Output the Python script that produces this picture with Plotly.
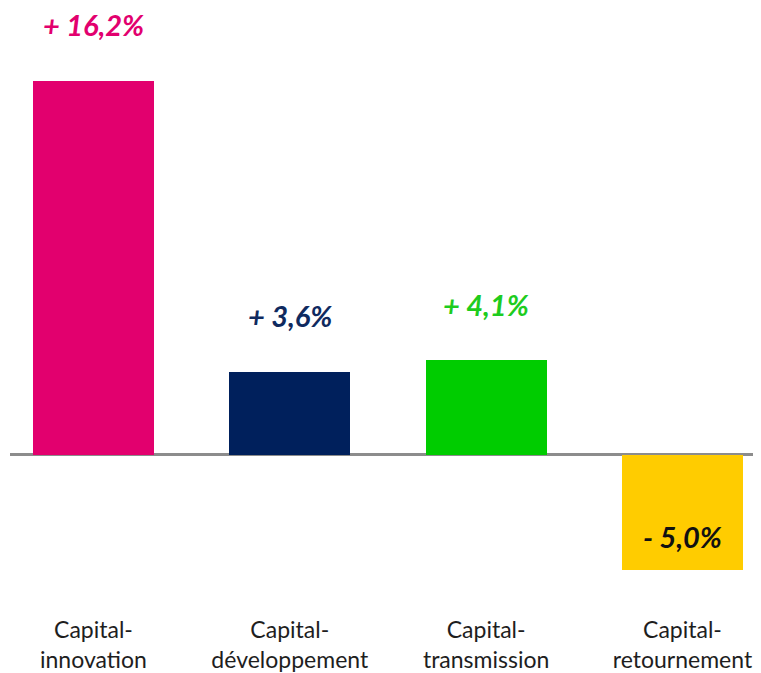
"""Bar chart: performance by capital segment."""

import plotly.graph_objects as go

# === Data ===
CATEGORIES = [
    "Capital-<br>innovation",
    "Capital-<br>développement",
    "Capital-<br>transmission",
    "Capital-<br>retournement",
]
VALUES = [16.2, 3.6, 4.1, -5.0]
VALUE_LABELS = ["+ 16,2%", "+ 3,6%", "+ 4,1%", "- 5,0%"]

BAR_COLORS = ["#E2006E", "#00205C", "#00CC00", "#FFCC00"]
LABEL_COLORS = ["#E2006E", "#0F2A5F", "#1ECC1E", "#111111"]

FONT = "Lato, Calibri, Carlito, sans-serif"

fig = go.Figure()

fig.add_trace(go.Bar(
    x=CATEGORIES,
    y=VALUES,
    width=0.616,
    marker=dict(color=BAR_COLORS, line=dict(width=0)),
    hoverinfo="skip",
))

# value labels: above the bar when positive, inside near the end when negative
for cat, val, text, color in zip(CATEGORIES, VALUES, VALUE_LABELS, LABEL_COLORS):
    fig.add_annotation(
        x=cat,
        y=val,
        text=f"<b><i>{text}</i></b>",
        showarrow=False,
        yanchor="middle",
        yshift=56 if val > 0 else 34,
        borderpad=0,
        font=dict(family=FONT, size=29, color=color),
    )

# the page body has an 8px margin, so the figure is sized to fit the window
fig.update_layout(
    width=753,
    height=665,
    plot_bgcolor="#ffffff",
    paper_bgcolor="#ffffff",
    showlegend=False,
    margin=dict(t=0, b=68, l=2, r=0),
    bargap=0,
    xaxis=dict(
        range=[-0.425, 3.40],
        showgrid=False,
        showline=False,
        ticks="",
        ticklabelstandoff=9,
        tickfont=dict(family=FONT, size=23, color="#1E1E1E"),
    ),
    yaxis=dict(
        range=[-6.5, 19.36],
        showgrid=False,
        showticklabels=False,
        zeroline=True,
        zerolinecolor="#8C8C8C",
        zerolinewidth=3,
    ),
)

fig.write_html("out.html")
